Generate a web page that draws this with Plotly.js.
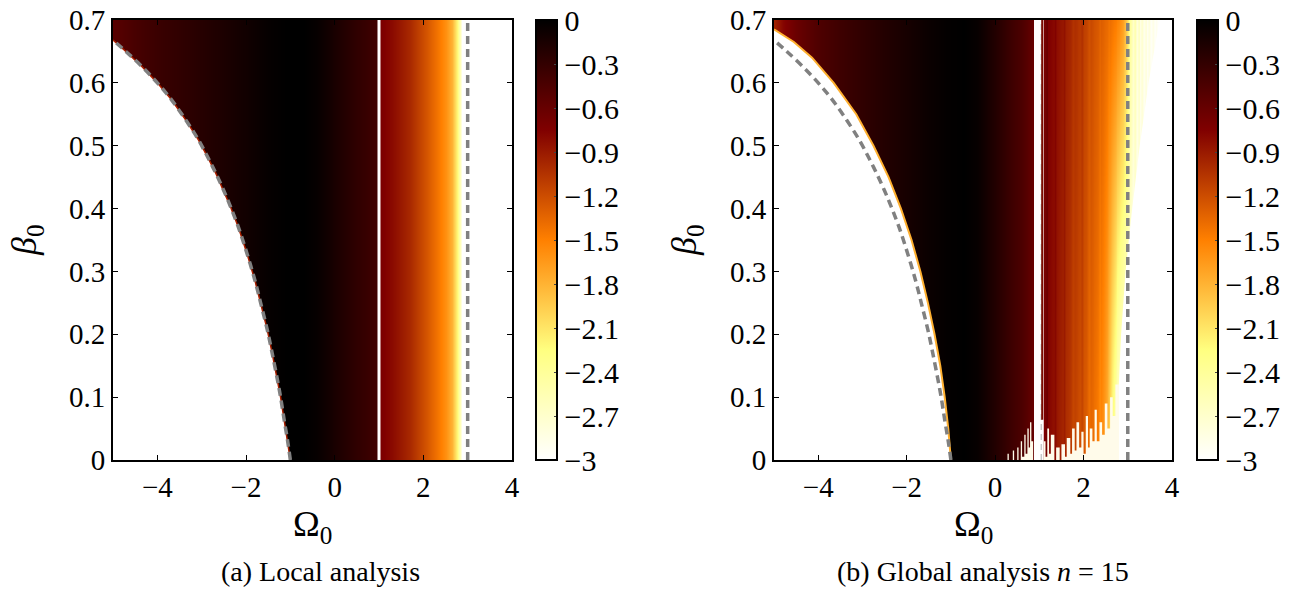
<!DOCTYPE html>
<html><head><meta charset="utf-8">
<script src="https://cdn.plot.ly/plotly-3.0.1.min.js"></script>
<style>html,body{margin:0;padding:0;background:#fff}#chart{width:1311px;height:589px}</style>
</head><body><div id="chart"></div>
<script>
// ---------- data ----------
// (a) local analysis: colour value along Omega0 (vertical bands)
const localOmega  = [-5, -4.5, -4, -3.5, -3, -2.5, -2, -1.5, -1.1, -0.7, -0.4, 0, 0.5, 0.97, 1.03, 1.3, 1.7, 2.1, 2.36, 2.52, 2.64, 2.75, 2.83, 2.88, 3.5, 4];
const localValues = [-0.52, -0.42, -0.34, -0.28, -0.22, -0.16, -0.1, -0.03, 0, 0, -0.04, -0.15, -0.28, -0.38, -0.72, -0.81, -0.99, -1.27, -1.46, -1.6, -1.8, -2.2, -2.6, -3, -3, -3];

// (b) global analysis, smooth part left of the gap
const globalOmega  = [-5, -4.8, -4.5, -4, -3.5, -3, -2.5, -2, -1.5, -1.1, -0.7, -0.4, 0, 0.3, 0.6, 0.8, 0.85];
const globalValues = [-0.95, -0.78, -0.62, -0.46, -0.36, -0.28, -0.2, -0.13, -0.06, -0.02, 0, -0.04, -0.2, -0.33, -0.45, -0.55, -0.6];

// (b) streaky part right of the gap: value per column at beta = 0 and beta = 0.7
const streakOmega = [1.12,1.16,1.20,1.24,1.28,1.32,1.36,1.40,1.44,1.48,1.52,1.56,1.60,1.64,1.68,1.72,1.76,1.80,1.84,1.88,1.92,1.96,2.00,2.04,2.08,2.12,2.16,2.20,2.24,2.28,2.32,2.36,2.40,2.44,2.48,2.52,2.56,2.60,2.64,2.68,2.72,2.76,2.80,2.84,2.88,2.92,2.96,3.00,3.04,3.08,3.12,3.16,3.20,3.24,3.28,3.32,3.36,3.40,3.44,3.48,3.52,3.56,3.60,3.64,3.68,3.72,3.76,3.80];
const streakBeta = [0, 0.7];
const streakBottom = [-0.72,-0.62,-0.77,-0.80,-0.83,-0.85,-0.80,-0.90,-0.93,-0.95,
  -0.98,-0.92,-1.03,-1.05,-1.08,-1.10,-1.18,-1.15,-1.18,-1.20,
  -1.23,-1.17,-1.28,-1.30,-1.33,-1.42,-1.37,-1.40,-1.43,-1.46,
  -1.50,-1.60,-1.56,-1.62,-1.70,-1.80,-2.00,-2.10,-2.30,-2.45,
  -2.60,-2.75,-2.85,-2.95,-3,-3,-3,-3,-3,-3,
  -3,-3,-3,-3,-3,-3,-3,-3,-3,-3,
  -3,-3,-3,-3,-3,-3,-3,-3];
const streakTop = [-0.70,-0.60,-0.74,-0.76,-0.78,-0.80,-0.75,-0.83,-0.85,-0.87,
  -0.89,-0.84,-0.93,-0.95,-0.97,-0.99,-1.05,-1.02,-1.04,-1.06,
  -1.08,-1.03,-1.12,-1.14,-1.16,-1.22,-1.18,-1.21,-1.23,-1.25,
  -1.27,-1.33,-1.30,-1.32,-1.35,-1.37,-1.42,-1.40,-1.43,-1.46,
  -1.48,-1.52,-1.55,-1.62,-1.68,-1.75,-1.90,-2.10,-2.40,-2.55,
  -2.70,-2.50,-2.80,-2.60,-2.85,-2.70,-2.90,-2.75,-2.92,-2.80,
  -2.95,-2.85,-2.97,-2.90,-2.98,-2.93,-3.00,-3.00];

// dashed theoretical boundary (both panels)
const curveBeta  = [0, 0.03, 0.064, 0.1, 0.127, 0.17, 0.207, 0.25, 0.286, 0.329, 0.37, 0.403, 0.43, 0.456, 0.48, 0.509, 0.54, 0.573, 0.6, 0.626, 0.65, 0.668];
const curveOmega = [-1.0, -1.06, -1.14, -1.22, -1.29, -1.41, -1.52, -1.67, -1.8, -1.98, -2.17, -2.35, -2.51, -2.68, -2.85, -3.07, -3.35, -3.68, -4.0, -4.35, -4.71, -5.0];

// left data edge of panel (b)
const edgeBeta  = [0, 0.05, 0.1, 0.15, 0.2, 0.25, 0.3, 0.35, 0.4, 0.45, 0.5, 0.55, 0.6, 0.64, 0.665, 0.685];
const edgeOmega = [-1.0, -1.06, -1.14, -1.24, -1.37, -1.52, -1.69, -1.89, -2.13, -2.41, -2.75, -3.14, -3.65, -4.14, -4.55, -5.0];

// right data edge of panel (b) (end of the pale fan)
const fanBeta  = [0, 0.1, 0.2, 0.3, 0.4, 0.5, 0.6, 0.7];
const fanOmega = [2.72, 2.78, 2.85, 2.95, 3.1, 3.27, 3.47, 3.72];

// empty streaks rising from beta = 0 in panel (b)
const spikeOmegaA = [0.20, 0.28, 0.31, 0.40, 0.43, 0.50, 0.53, 0.58, 0.61, 0.66, 0.69, 0.73, 0.76, 0.79, 0.82, 0.86];
const spikeBetaA  = [0, 0.01, 0, 0.015, 0, 0.02, 0, 0.03, 0.005, 0.04, 0.01, 0.05, 0.02, 0.06, 0.03, 0];
const spikeOmegaB = [1.10, 1.14, 1.18, 1.22, 1.26, 1.34, 1.38, 1.46, 1.50, 1.58, 1.62, 1.70, 1.74, 1.80, 1.84, 1.90, 1.95, 2.00, 2.05, 2.10, 2.14, 2.20, 2.25, 2.30, 2.36, 2.42, 2.48, 2.54, 2.60, 2.66, 2.72, 2.80];
const spikeBetaB  = [0.03, 0.005, 0.05, 0.01, 0.04, 0, 0.02, 0, 0.025, 0.005, 0.035, 0.01, 0.05, 0.015, 0.06, 0.02, 0.045, 0.01, 0.07, 0.02, 0.05, 0.03, 0.08, 0.03, 0.06, 0.04, 0.09, 0.05, 0.1, 0.07, 0.12, 0];

// thin isolated column near Omega0 = 1 in panel (b)
const thinOmega = [1.065, 1.065];
const thinBeta  = [0.064, 0.7];

const cbTicks = [0, -0.3, -0.6, -0.9, -1.2, -1.5, -1.8, -2.1, -2.4, -2.7, -3];
const xTicks = [-4, -2, 0, 2, 4];

// ---------- drawing ----------
const W = 1311, H = 589;
const px = v => v / W, py = v => (H - v) / H;
const FONT = '"Liberation Serif", "Times New Roman", serif';
const afmhotR = [[0,'rgb(255,255,255)'],[0.25,'rgb(255,255,128)'],[0.5,'rgb(255,128,0)'],[0.75,'rgb(128,0,0)'],[1,'rgb(0,0,0)']];

function colorbar(x0) {
  return {x: px(x0), xanchor:'left', y: py(460), yanchor:'bottom', len: 440/H, lenmode:'fraction',
    thickness: 21, thicknessmode:'pixels', outlinewidth: 2, outlinecolor:'#000',
    ticks:'inside', ticklen:4, tickcolor:'#444', tickvals: cbTicks, xpad:0, ypad:0,
    tickfont:{family:FONT, size:30, color:'#000'}};
}
function band(x, vals, xa, ya, cbx) {
  return {type:'heatmap', x:x, y:[0,0.7], z:[vals, vals], zmin:-3, zmax:0, zsmooth:'best',
    colorscale: afmhotR, showscale: cbx !== null, colorbar: cbx !== null ? colorbar(cbx) : undefined,
    xaxis:xa, yaxis:ya, hoverinfo:'skip'};
}
function mask(om, be, xa, ya, side) {
  const xe = side === 'left' ? -5.5 : 4.5;
  const x = om.concat([xe, xe]), y = be.concat([be[be.length-1] + (side === 'left' ? 0 : 0.05), -0.05]);
  x.push(om[0]); y.push(-0.05);
  return {type:'scatter', mode:'lines', x:x, y:y, fill:'toself', fillcolor:'#fff', line:{width:0},
    xaxis:xa, yaxis:ya, hoverinfo:'skip', showlegend:false};
}
function line(om, be, xa, ya, color, width, dash, shape) {
  return {type:'scatter', mode:'lines', x:om, y:be, line:{color:color, width:width, dash:dash||'solid', shape:shape||'linear'},
    xaxis:xa, yaxis:ya, hoverinfo:'skip', showlegend:false};
}
function spikes(om, be, xa, ya) {
  return {type:'scatter', mode:'lines', x:om, y:be, fill:'tozeroy', fillcolor:'#fffbea', line:{width:0, shape:'hv'},
    xaxis:xa, yaxis:ya, hoverinfo:'skip', showlegend:false};
}

const traces = [
  band(localOmega, localValues, 'x', 'y', 536),
  mask(curveOmega, curveBeta, 'x', 'y', 'left'),
  line(curveOmega, curveBeta, 'x', 'y', '#a82000', 1.5),
  line(curveOmega, curveBeta, 'x', 'y', '#808080', 3.5, '8px,5px', 'spline'),

  band(globalOmega, globalValues, 'x2', 'y2', 1197),
  {type:'heatmap', x:streakOmega, y:streakBeta, z:[streakBottom, streakTop], zmin:-3, zmax:0, zsmooth:'best',
    colorscale:afmhotR, showscale:false, xaxis:'x2', yaxis:'y2', hoverinfo:'skip'},
  mask(edgeOmega, edgeBeta, 'x2', 'y2', 'left'),
  mask(fanOmega, fanBeta, 'x2', 'y2', 'right'),
  line(edgeOmega, edgeBeta, 'x2', 'y2', '#ffb030', 2),
  spikes(spikeOmegaA, spikeBetaA, 'x2', 'y2'),
  spikes(spikeOmegaB, spikeBetaB, 'x2', 'y2'),
  line(thinOmega, thinBeta, 'x2', 'y2', '#7a0a00', 2),
  line(curveOmega, curveBeta, 'x2', 'y2', '#808080', 3.5, '8px,5px', 'spline')
];

const axBase = {showline:true, linewidth:2, linecolor:'#000', mirror:'ticks', ticks:'inside', ticklen:5, tickwidth:1,
  tickcolor:'#000', showgrid:false, zeroline:false};
const tf = () => ({family:FONT, size:29, color:'#000'});
const yDom = [py(460), py(20)];
const layout = {
  width: W, height: H, margin:{l:0, r:0, t:0, b:0}, paper_bgcolor:'#fff', plot_bgcolor:'#fff', showlegend:false,
  font:{family:FONT, color:'#000'},
  xaxis:  Object.assign({}, axBase, {tickfont:tf(), domain:[px(113), px(512)], range:[-5, 4], tickvals:xTicks, anchor:'y'}),
  yaxis:  Object.assign({}, axBase, {tickfont:tf(), domain:yDom, range:[0, 0.7], tick0:0, dtick:0.1, anchor:'x'}),
  xaxis2: Object.assign({}, axBase, {tickfont:tf(), domain:[px(774), px(1172)], range:[-5, 4], tickvals:xTicks, anchor:'y2'}),
  yaxis2: Object.assign({}, axBase, {tickfont:tf(), domain:yDom, range:[0, 0.7], tick0:0, dtick:0.1, anchor:'x2'}),
  shapes: [
    {type:'line', xref:'x', yref:'y', x0:1, x1:1, y0:0, y1:0.7, line:{color:'#fff', width:3}, layer:'above'},
    {type:'line', xref:'x', yref:'y', x0:3, x1:3, y0:0, y1:0.7, line:{color:'#808080', width:3.5, dash:'8px,5px'}, layer:'above'},
    {type:'line', xref:'x2', yref:'y2', x0:1.045, x1:1.045, y0:0, y1:0.7, line:{color:'#c8c8c8', width:1.5, dash:'6px,4px'}, layer:'below'},
    {type:'line', xref:'x2', yref:'y2', x0:3, x1:3, y0:0, y1:0.7, line:{color:'#808080', width:3.5, dash:'8px,5px'}, layer:'above'}
  ],
  annotations: [
    {text:'Ω<sub>0</sub>', xref:'paper', yref:'paper', x:px(312), y:py(526), showarrow:false, xanchor:'center', yanchor:'middle', font:{family:FONT, size:36, color:'#000'}},
    {text:'Ω<sub>0</sub>', xref:'paper', yref:'paper', x:px(973), y:py(526), showarrow:false, xanchor:'center', yanchor:'middle', font:{family:FONT, size:36, color:'#000'}},
    {text:'<i>β</i><sub>0</sub>', xref:'paper', yref:'paper', x:px(27), y:py(240), showarrow:false, textangle:-90, xanchor:'center', yanchor:'middle', font:{family:FONT, size:36, color:'#000'}},
    {text:'<i>β</i><sub>0</sub>', xref:'paper', yref:'paper', x:px(687), y:py(240), showarrow:false, textangle:-90, xanchor:'center', yanchor:'middle', font:{family:FONT, size:36, color:'#000'}},
    {text:'(a) Local analysis', xref:'paper', yref:'paper', x:px(320), y:py(571), showarrow:false, xanchor:'center', yanchor:'middle', font:{family:FONT, size:28, color:'#000'}},
    {text:'(b) Global analysis <i>n</i> = 15', xref:'paper', yref:'paper', x:px(983), y:py(571), showarrow:false, xanchor:'center', yanchor:'middle', font:{family:FONT, size:28, color:'#000'}}
  ]
};
Plotly.newPlot('chart', traces, layout, {displayModeBar:false, staticPlot:true});
</script></body></html>
